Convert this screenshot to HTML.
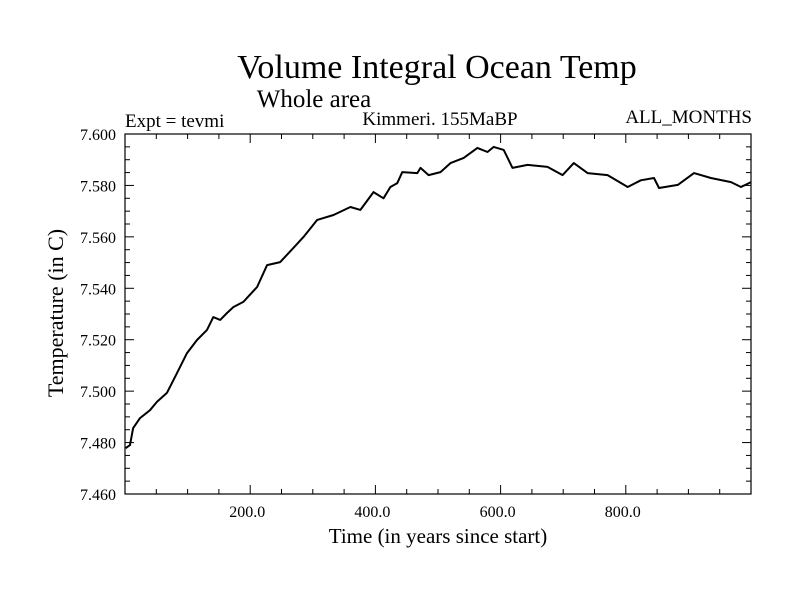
<!DOCTYPE html>
<html><head><meta charset="utf-8"><style>
body{margin:0;background:#fff}
svg{display:block;font-family:"Liberation Serif",serif}
</style></head><body>
<svg id="chart" width="800" height="600" viewBox="0 0 800 600">
<text x="437" y="78" font-size="34" text-anchor="middle">Volume Integral Ocean Temp</text>
<text x="314" y="107" font-size="25" text-anchor="middle">Whole area</text>
<text x="125" y="127" font-size="19">Expt = tevmi</text>
<text x="440" y="125" font-size="19" text-anchor="middle">Kimmeri. 155MaBP</text>
<text x="752" y="123" font-size="19" text-anchor="end">ALL_MONTHS</text>
<text transform="translate(63,313) rotate(-90)" font-size="22" text-anchor="middle">Temperature (in C)</text>
<text x="438" y="543" font-size="21" text-anchor="middle">Time (in years since start)</text>
<g id="axes"></g>
<path id="line" fill="none" stroke="#000" stroke-width="2" stroke-linejoin="round"/>
<rect x="125" y="134" width="626" height="360" fill="none" stroke="#000" stroke-width="1.2"/>
</svg>
<script>
const years=[1,8,13,24,40,51,67,83,99,115,131,141,152,163,173,189,211,227,248,269,285,307,333,360,376,397,413,424,435,443,455,467,472,485,504,520,541,563,579,589,605,619,643,675,699,717,739,771,803,824,845,853,883,909,936,968,984,1000];
const temps=[7.4778,7.4790,7.4856,7.4895,7.4926,7.4958,7.4993,7.5070,7.5148,7.5199,7.5238,7.5288,7.5277,7.5304,7.5327,7.5347,7.5405,7.5490,7.5502,7.5557,7.5599,7.5666,7.5685,7.5716,7.5705,7.5774,7.5750,7.5794,7.5809,7.5852,7.5850,7.5848,7.5868,7.5840,7.5852,7.5887,7.5907,7.5946,7.5930,7.5950,7.5938,7.5868,7.5880,7.5872,7.5840,7.5887,7.5848,7.5840,7.5794,7.5820,7.5829,7.5790,7.5802,7.5848,7.5829,7.5813,7.5794,7.5813];
const yTicks=[7.460,7.480,7.500,7.520,7.540,7.560,7.580,7.600];
const xTicks=[200,400,600,800];
const X0=125,X1=751,Y0=494,Y1=134;
const xs=v=>X0+(v-0)/(1000-0)*(X1-X0);
const ys=v=>Y0-(v-7.46)/(7.60-7.46)*(Y0-Y1);
const NS="http://www.w3.org/2000/svg";
const ax=document.getElementById('axes');
function ln(x1,y1,x2,y2){const l=document.createElementNS(NS,'line');l.setAttribute('x1',x1);l.setAttribute('y1',y1);l.setAttribute('x2',x2);l.setAttribute('y2',y2);l.setAttribute('stroke','#000');l.setAttribute('stroke-width','1');ax.appendChild(l);return l;}
for(let v=7.46;v<=7.6001;v+=0.005){const y=ys(v);const major=Math.abs((v-7.46)/0.02-Math.round((v-7.46)/0.02))<1e-6;const L=major?9:5;
const a=ln(X0,y,X0+L,y);
const b=ln(X1,y,X1-L,y);}
for(let v=50;v<1000;v+=50){const x=xs(v);const major=v%200===0;const L=major?9:5;
const a=ln(x,Y0,x,Y0-L);
const b=ln(x,Y1,x,Y1+L);}
yTicks.forEach(v=>{const t=document.createElementNS(NS,'text');t.setAttribute('x',116);t.setAttribute('y',ys(v)+6);t.setAttribute('font-size','16');t.setAttribute('text-anchor','end');t.textContent=v.toFixed(3);


ax.appendChild(t);});
xTicks.forEach(v=>{const t=document.createElementNS(NS,'text');t.setAttribute('x',xs(v)-3);t.setAttribute('y',Y0+23);t.setAttribute('font-size','16');t.setAttribute('text-anchor','middle');t.textContent=v.toFixed(1);


ax.appendChild(t);});
document.getElementById('line').setAttribute('d',years.map((y,i)=>(i?'L':'M')+xs(y).toFixed(1)+','+ys(temps[i]).toFixed(1)).join(''));
</script>
</body></html>
